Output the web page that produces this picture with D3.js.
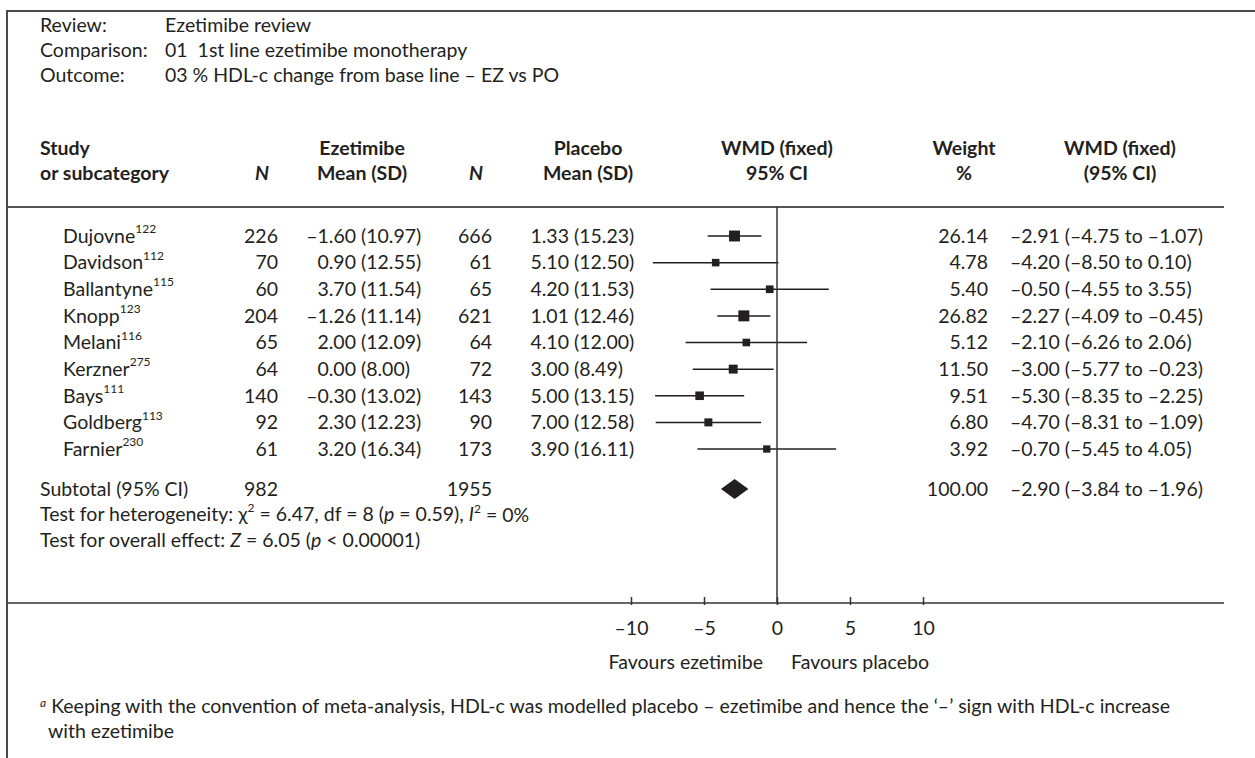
<!DOCTYPE html>
<html lang="en">

<head>
    <meta charset="UTF-8">
    <title>Ezetimibe review - HDL-c</title>
    <style>
        body {
            margin: 0;
            background: #fff;
        }

        svg text {
            font-family: Lato, "Open Sans", sans-serif;
            font-size: 19.5px;
            fill: #231f20;
            white-space: pre;
        }

        .hdr {
            font-weight: bold;
        }

        .sup {
            font-size: 12px;
        }
    </style>
    <script src="https://cdn.jsdelivr.net/npm/d3@7"></script>
</head>

<body>
    <div id="chart"></div>
    <script>
        // data
        var studies = ["Dujovne", "Davidson", "Ballantyne", "Knopp", "Melani", "Kerzner", "Bays", "Goldberg", "Farnier"];
        var refs = ["122", "112", "115", "123", "116", "275", "111", "113", "230"];
        var ezN = [226, 70, 60, 204, 65, 64, 140, 92, 61];
        var ezMean = [-1.60, 0.90, 3.70, -1.26, 2.00, 0.00, -0.30, 2.30, 3.20];
        var ezSD = [10.97, 12.55, 11.54, 11.14, 12.09, 8.00, 13.02, 12.23, 16.34];
        var poN = [666, 61, 65, 621, 64, 72, 143, 90, 173];
        var poMean = [1.33, 5.10, 4.20, 1.01, 4.10, 3.00, 5.00, 7.00, 3.90];
        var poSD = [15.23, 12.50, 11.53, 12.46, 12.00, 8.49, 13.15, 12.58, 16.11];
        var weight = [26.14, 4.78, 5.40, 26.82, 5.12, 11.50, 9.51, 6.80, 3.92];
        var wmd = [-2.91, -4.20, -0.50, -2.27, -2.10, -3.00, -5.30, -4.70, -0.70];
        var wmdLo = [-4.75, -8.50, -4.55, -4.09, -6.26, -5.77, -8.35, -8.31, -5.45];
        var wmdHi = [-1.07, 0.10, 3.55, -0.45, 2.06, -0.23, -2.25, -1.09, 4.05];
        var subtotal = { ezN: 982, poN: 1955, weight: 100.00, wmd: -2.90, lo: -3.84, hi: -1.96 };
        var ticks = [-10, -5, 0, 5, 10];

        var width = 1255, height = 758;
        var ink = "#231f20";
        var left = 40;

        var svg = d3.select("#chart").append("svg")
            .attr("width", width)
            .attr("height", height);

        function num(v) {
            return (v < 0 ? "\u2013" : "") + Math.abs(v).toFixed(2);
        }

        var x = d3.scaleLinear().domain([-10, 10]).range([631, 923]);
        var y = d3.scalePoint().domain(studies).range([236, 449]);
        var boxSize = d3.scaleSqrt().domain([0, 27]).range([5, 11]);

        // frame
        svg.append("path")
            .attr("d", "M7,758V11H1255")
            .attr("fill", "none")
            .attr("stroke", "#4a4a4a")
            .attr("stroke-width", 2);

        // review info
        var info = [["Review:", "Ezetimibe review"],
        ["Comparison:", "01  1st line ezetimibe monotherapy"],
        ["Outcome:", "03 % HDL-c change from base line \u2013 EZ vs PO"]];
        info.forEach(function (r, i) {
            svg.append("text").attr("x", left).attr("y", 32 + i * 25).text(r[0]);
            svg.append("text").attr("x", 165).attr("y", 32 + i * 25).text(r[1]);
        });

        // column headers
        var h1 = 155, h2 = 180;
        function hdr(xx, yy, t, anchor, italic) {
            return svg.append("text").attr("class", "hdr")
                .attr("x", xx).attr("y", yy)
                .attr("text-anchor", anchor || "middle")
                .style("font-style", italic ? "italic" : null)
                .text(t);
        }
        hdr(left, h1, "Study", "start");
        hdr(left, h2, "or subcategory", "start");
        hdr(262, h2, "N", "middle", true);
        hdr(362, h1, "Ezetimibe");
        hdr(362, h2, "Mean (SD)");
        hdr(476, h2, "N", "middle", true);
        hdr(588, h1, "Placebo");
        hdr(588, h2, "Mean (SD)");
        hdr(777, h1, "WMD (fixed)");
        hdr(777, h2, "95% CI");
        hdr(964, h1, "Weight");
        hdr(964, h2, "%");
        hdr(1120, h1, "WMD (fixed)");
        hdr(1120, h2, "(95% CI)");

        svg.append("line")
            .attr("x1", 8).attr("x2", 1224)
            .attr("y1", 207).attr("y2", 207)
            .attr("stroke", "#555").attr("stroke-width", 2);

        // study rows
        var rows = svg.append("g").selectAll("g")
            .data(studies)
            .enter().append("g")
            .attr("transform", function (d) { return "translate(0," + y(d) + ")"; });

        var nm = rows.append("text").attr("x", 63).attr("dy", "0.35em");
        nm.append("tspan").text(function (d) { return d; });
        nm.append("tspan").attr("class", "sup").attr("dy", "-0.8em")
            .text(function (d, i) { return refs[i]; });

        rows.append("text").attr("x", 278).attr("dy", "0.35em").attr("text-anchor", "end")
            .text(function (d, i) { return ezN[i]; });
        rows.append("text").attr("x", 356).attr("dy", "0.35em").attr("text-anchor", "end")
            .text(function (d, i) { return num(ezMean[i]); });
        rows.append("text").attr("x", 361).attr("dy", "0.35em")
            .text(function (d, i) { return "(" + ezSD[i].toFixed(2) + ")"; });
        rows.append("text").attr("x", 492).attr("dy", "0.35em").attr("text-anchor", "end")
            .text(function (d, i) { return poN[i]; });
        rows.append("text").attr("x", 569).attr("dy", "0.35em").attr("text-anchor", "end")
            .text(function (d, i) { return num(poMean[i]); });
        rows.append("text").attr("x", 574).attr("dy", "0.35em")
            .text(function (d, i) { return "(" + poSD[i].toFixed(2) + ")"; });
        rows.append("text").attr("x", 988).attr("dy", "0.35em").attr("text-anchor", "end")
            .text(function (d, i) { return weight[i].toFixed(2); });
        rows.append("text").attr("x", 1010).attr("dy", "0.35em")
            .text(function (d, i) { return num(wmd[i]) + " (" + num(wmdLo[i]) + " to " + num(wmdHi[i]) + ")"; });

        // CI lines + boxes
        rows.append("line")
            .attr("x1", function (d, i) { return x(wmdLo[i]); })
            .attr("x2", function (d, i) { return x(wmdHi[i]); })
            .attr("stroke", ink).attr("stroke-width", 1.5);
        rows.append("rect")
            .attr("x", function (d, i) { return x(wmd[i]) - boxSize(weight[i]) / 2; })
            .attr("y", function (d, i) { return -boxSize(weight[i]) / 2; })
            .attr("width", function (d, i) { return boxSize(weight[i]); })
            .attr("height", function (d, i) { return boxSize(weight[i]); })
            .attr("fill", ink);

        // subtotal
        var sy = 489;
        svg.append("text").attr("x", left).attr("y", sy).attr("dy", "0.35em").text("Subtotal (95% CI)");
        svg.append("text").attr("x", 278).attr("y", sy).attr("dy", "0.35em").attr("text-anchor", "end").text(subtotal.ezN);
        svg.append("text").attr("x", 492).attr("y", sy).attr("dy", "0.35em").attr("text-anchor", "end").text(subtotal.poN);
        svg.append("text").attr("x", 988).attr("y", sy).attr("dy", "0.35em").attr("text-anchor", "end").text(subtotal.weight.toFixed(2));
        svg.append("text").attr("x", 1010).attr("y", sy).attr("dy", "0.35em")
            .text(num(subtotal.wmd) + " (" + num(subtotal.lo) + " to " + num(subtotal.hi) + ")");
        svg.append("path")
            .attr("d", "M" + x(subtotal.lo) + "," + sy + "L" + x(subtotal.wmd) + "," + (sy - 10) +
                "L" + x(subtotal.hi) + "," + sy + "L" + x(subtotal.wmd) + "," + (sy + 10) + "Z")
            .attr("fill", ink);

        // tests
        var t1 = svg.append("text").attr("x", left).attr("y", 514).attr("dy", "0.35em");
        t1.append("tspan").text("Test for heterogeneity: \u03c7");
        t1.append("tspan").attr("class", "sup").attr("dy", "-0.7em").text("2");
        t1.append("tspan").attr("dy", "0.45em").text(" = 6.47, df = 8 (");
        t1.append("tspan").style("font-style", "italic").text("p");
        t1.append("tspan").text(" = 0.59), ");
        t1.append("tspan").style("font-style", "italic").text("I");
        t1.append("tspan").attr("class", "sup").attr("dy", "-0.7em").text("2");
        t1.append("tspan").attr("dy", "0.45em").text(" = 0%");

        var t2 = svg.append("text").attr("x", left).attr("y", 540).attr("dy", "0.35em");
        t2.append("tspan").text("Test for overall effect: ");
        t2.append("tspan").style("font-style", "italic").text("Z");
        t2.append("tspan").text(" = 6.05 (");
        t2.append("tspan").style("font-style", "italic").text("p");
        t2.append("tspan").text(" < 0.00001)");

        // zero line
        var axisY = 603;
        svg.append("line")
            .attr("x1", x(0)).attr("x2", x(0))
            .attr("y1", 207).attr("y2", axisY)
            .attr("stroke", "#333").attr("stroke-width", 1.5);

        // axis
        svg.append("line")
            .attr("x1", 8).attr("x2", 1224)
            .attr("y1", axisY).attr("y2", axisY)
            .attr("stroke", "#333").attr("stroke-width", 1.5);
        var ax = svg.append("g")
            .attr("transform", "translate(0," + axisY + ")")
            .call(d3.axisBottom(x).tickValues(ticks)
                .tickSizeInner(-6).tickSizeOuter(0).tickPadding(18)
                .tickFormat(function (d) { return d < 0 ? "\u2013" + Math.abs(d) : d; }));
        ax.select(".domain").remove();
        ax.selectAll(".tick line").attr("stroke", "#333").attr("stroke-width", 1.5).attr("y2", -6).attr("y1", 2);
        ax.selectAll(".tick text").style("font-size", "19.5px").attr("fill", ink)
            .style("font-family", "Lato, sans-serif");

        svg.append("text").attr("x", x(0) - 14).attr("y", 669).attr("text-anchor", "end").text("Favours ezetimibe");
        svg.append("text").attr("x", x(0) + 14).attr("y", 669).text("Favours placebo");

        // footnote
        var fn = svg.append("text").attr("x", left).attr("y", 713);
        fn.append("tspan").attr("class", "sup").style("font-style", "italic").attr("dy", "-0.5em").text("a");
        fn.append("tspan").attr("dy", "0.3em")
            .text(" Keeping with the convention of meta-analysis, HDL-c was modelled placebo \u2013 ezetimibe and hence the \u2018\u2013\u2019 sign with HDL-c increase");
        svg.append("text").attr("x", 48).attr("y", 738).text("with ezetimibe");
    </script>
</body>

</html>
